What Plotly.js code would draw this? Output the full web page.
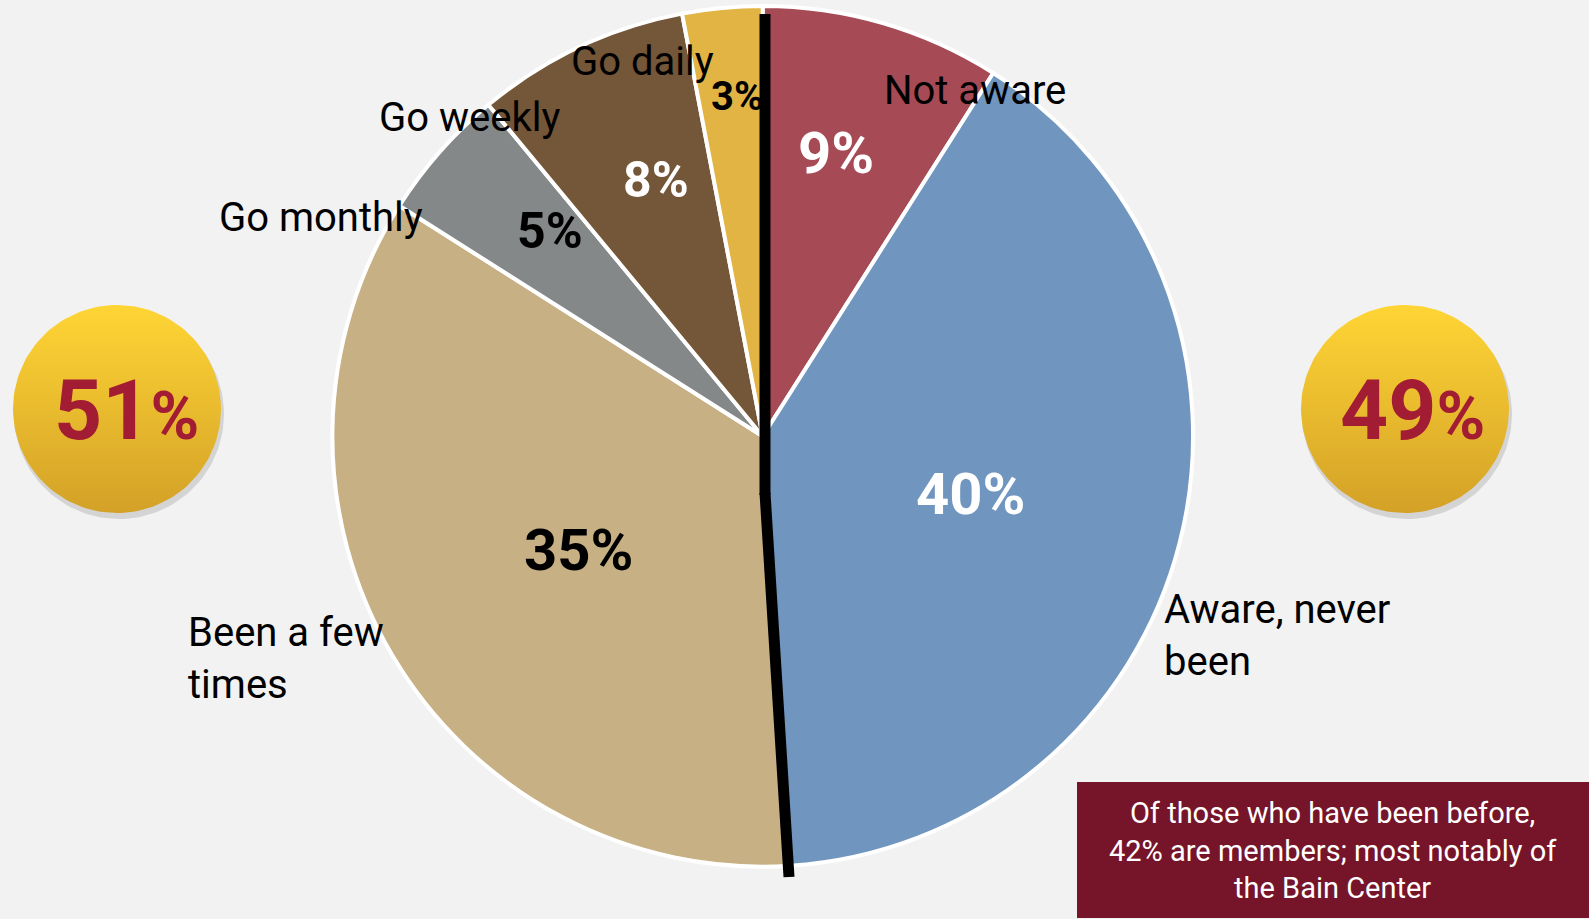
<!DOCTYPE html>
<html>
<head>
<meta charset="utf-8">
<script src="https://cdn.plot.ly/plotly-3.0.1.min.js"></script>
<style>
html,body{margin:0;padding:0;background:#F2F2F2;}
#chart{width:1589px;height:919px;}
</style>
</head>
<body>
<div id="chart"></div>
<script>
// ---- data ----
const categories = ['Not aware', 'Aware, never been', 'Been a few times', 'Go monthly', 'Go weekly', 'Go daily'];
const displayLabels = ['Not aware', 'Aware, never<br>been', 'Been a few<br>times', 'Go monthly', 'Go weekly', 'Go daily'];
const shares = [9, 40, 35, 5, 8, 3];
const sliceColors = ['#A64A55', '#7095BE', '#C8B085', '#858888', '#745638', '#E2B444'];
const pctTextColors = ['#FFFFFF', '#FFFFFF', '#000000', '#000000', '#FFFFFF', '#000000'];
const pctTextSizes = [58, 58, 58, 50, 50, 40];
const neverBeenGroup = ['Not aware', 'Aware, never been'];
const noteText = 'Of those who have been before,<br>42% are members; most notably of<br>the Bain Center';

// ---- derived ----
const notBeenTotal = categories.reduce((s, c, i) => s + (neverBeenGroup.includes(c) ? shares[i] : 0), 0);
const beenTotal = categories.reduce((s, c, i) => s + (neverBeenGroup.includes(c) ? 0 : shares[i]), 0);

// ---- decoration helpers (pixel space axes) ----
function circle(cx, cy, r) {
  const xs = [], ys = [];
  for (let i = 0; i <= 144; i++) {
    const t = 2 * Math.PI * i / 144;
    xs.push(cx + r * Math.cos(t));
    ys.push(cy + r * Math.sin(t));
  }
  return {xs, ys};
}
const badgeL = {cx: 117, cy: 409, r: 104};
const badgeR = {cx: 1405, cy: 409, r: 104};

const traces = [];
[badgeL, badgeR].forEach(b => {
  const sh = circle(b.cx + 2, b.cy + 5, b.r + 1);
  traces.push({type: 'scatter', x: sh.xs, y: sh.ys, mode: 'lines', fill: 'toself',
    fillcolor: 'rgba(0,0,0,0.12)', line: {width: 0}, hoverinfo: 'skip', showlegend: false});
  const c = circle(b.cx, b.cy, b.r);
  traces.push({type: 'scatter', x: c.xs, y: c.ys, mode: 'lines', fill: 'toself',
    fillgradient: {type: 'vertical', colorscale: [[0, '#D3A127'], [1, '#FFD535']]},
    line: {width: 0}, hoverinfo: 'skip', showlegend: false});
});

traces.push({
  type: 'pie',
  labels: categories,
  values: shares,
  sort: false,
  direction: 'clockwise',
  rotation: 0,
  domain: {x: [0.2085, 0.7515], y: [0.057, 0.9935]},
  marker: {colors: sliceColors, line: {color: '#FFFFFF', width: 4}},
  textinfo: 'none',
  hoverinfo: 'skip',
  showlegend: false
});

const labelFont = {family: 'Roboto', size: 40, color: '#000000'};
const labelPos = [
  {x: 882, y: 90}, {x: 1162, y: 635}, {x: 186, y: 658},
  {x: 217, y: 217}, {x: 377, y: 117}, {x: 569, y: 61}
];
const pctPos = [
  {x: 836, y: 153}, {x: 970, y: 494}, {x: 578, y: 550},
  {x: 550, y: 231}, {x: 656, y: 180}, {x: 737, y: 96}
];
const annotations = categories.map((c, i) => ({
  xref: 'x', yref: 'y', x: labelPos[i].x, y: labelPos[i].y,
  xanchor: 'left', yanchor: 'middle', align: 'left',
  text: displayLabels[i], showarrow: false, font: labelFont
}));
shares.forEach((v, i) => annotations.push({
  xref: 'x', yref: 'y', x: pctPos[i].x, y: pctPos[i].y,
  xanchor: 'center', yanchor: 'middle', text: v + '%', showarrow: false,
  font: {family: 'Roboto', size: pctTextSizes[i], color: pctTextColors[i], weight: 'bold'}
}));

const badgeFont = {family: 'Roboto', size: 84, color: '#A21C33', weight: 'bold'};
annotations.push({xref: 'x', yref: 'y', x: 126, y: 410, xanchor: 'center', yanchor: 'middle',
  text: beenTotal + '<span style="font-size:66px">%</span>', showarrow: false, font: badgeFont});
annotations.push({xref: 'x', yref: 'y', x: 1412, y: 410, xanchor: 'center', yanchor: 'middle',
  text: notBeenTotal + '<span style="font-size:66px">%</span>', showarrow: false, font: badgeFont});
annotations.push({xref: 'x', yref: 'y', x: 1333, y: 850, xanchor: 'center', yanchor: 'middle',
  align: 'center', text: noteText, showarrow: false,
  font: {family: 'Roboto', size: 29, color: '#FFFFFF'}});

const shapes = [
  {type: 'rect', xref: 'x', yref: 'y', x0: 1077, x1: 1589, y0: 782, y1: 918,
    fillcolor: '#76152A', line: {width: 0}, layer: 'above'},
  {type: 'line', xref: 'x', yref: 'y', x0: 765, y0: 14, x1: 765, y1: 495,
    line: {color: '#000000', width: 11}, layer: 'above'},
  {type: 'line', xref: 'x', yref: 'y', x0: 765, y0: 493, x1: 789, y1: 877,
    line: {color: '#000000', width: 11}, layer: 'above'}
];

const layout = {
  width: 1589, height: 919,
  margin: {l: 0, r: 0, t: 0, b: 0},
  paper_bgcolor: '#F2F2F2', plot_bgcolor: '#F2F2F2',
  xaxis: {range: [0, 1589], visible: false, fixedrange: true},
  yaxis: {range: [919, 0], visible: false, fixedrange: true},
  showlegend: false,
  annotations: annotations,
  shapes: shapes
};

Plotly.newPlot('chart', traces, layout, {displayModeBar: false, staticPlot: true});
</script>
</body>
</html>
